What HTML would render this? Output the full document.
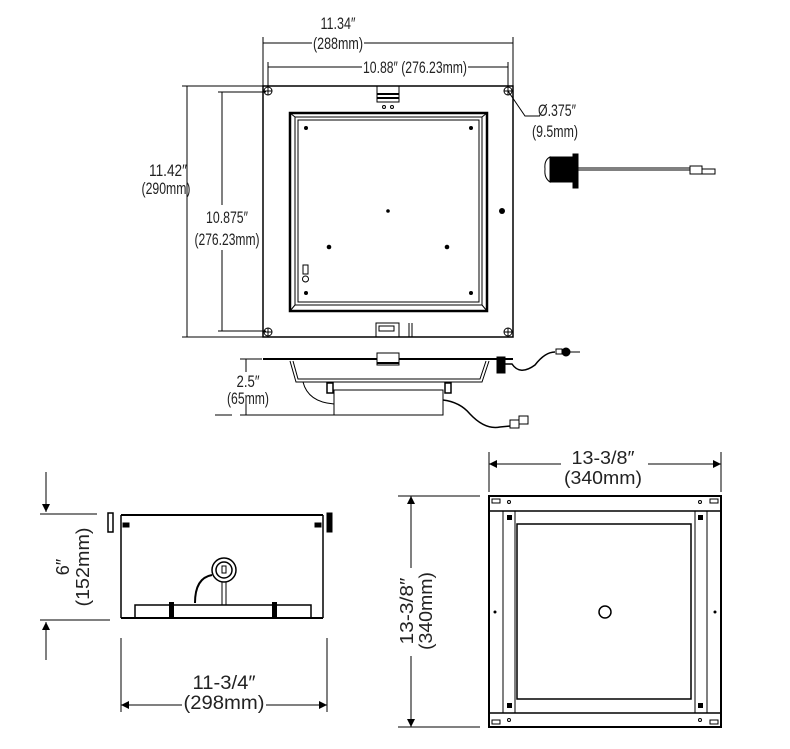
<!DOCTYPE html>
<html><head><meta charset="utf-8"><style>
html,body{margin:0;padding:0;background:#fff;}
svg{display:block;}
text{font-family:"Liberation Sans",sans-serif;fill:#222;}
</style></head><body>
<svg width="790" height="749" viewBox="0 0 790 749" xmlns="http://www.w3.org/2000/svg">
<defs>
<marker id="a" viewBox="0 0 10 10" refX="10" refY="5" markerWidth="14" markerHeight="8" orient="auto-start-reverse" markerUnits="userSpaceOnUse"><path d="M0,0L10,5L0,10z" fill="#000"/></marker>
</defs>
<g stroke="#000" fill="none" stroke-width="1">
<line x1="263" y1="37" x2="263" y2="86"/><line x1="513" y1="37" x2="513" y2="86"/>
<line x1="263" y1="43" x2="312" y2="43"/><line x1="364" y1="43" x2="513" y2="43"/>
<line x1="268" y1="62" x2="268" y2="88"/><line x1="508" y1="62" x2="508" y2="88"/>
<line x1="268" y1="67" x2="362" y2="67"/><line x1="468" y1="67" x2="508" y2="67"/>
<line x1="187" y1="86" x2="187" y2="337"/><line x1="182" y1="86" x2="263" y2="86"/><line x1="182" y1="337" x2="263" y2="337"/>
<line x1="222" y1="92" x2="222" y2="205"/><line x1="222" y1="250" x2="222" y2="331"/>
<line x1="218" y1="92" x2="266" y2="92"/><line x1="218" y1="331" x2="266" y2="331"/>
<rect x="263" y="86" width="250" height="251" stroke-width="1.5"/>
<rect x="290" y="113" width="197" height="198" stroke-width="2.5"/>
<rect x="295" y="117" width="187" height="188"/>
<rect x="298" y="120" width="181" height="182"/>
<line x1="290" y1="113" x2="295" y2="117"/><line x1="487" y1="113" x2="482" y2="117"/>
<line x1="290" y1="311" x2="295" y2="305"/><line x1="487" y1="311" x2="482" y2="305"/>
<rect x="377" y="86" width="22" height="16"/>
<line x1="377" y1="94" x2="399" y2="94" stroke-width="2"/><line x1="377" y1="98" x2="399" y2="98" stroke-width="2"/>
<circle cx="384" cy="107" r="1.5"/><circle cx="392" cy="107" r="1.5"/>
<rect x="376" y="323" width="23" height="14"/><rect x="379" y="326" width="15" height="5"/>
<line x1="409" y1="323" x2="409" y2="337"/><line x1="412" y1="323" x2="412" y2="337"/>
<g><circle cx="268" cy="91" r="4"/><circle cx="508" cy="91" r="4"/><circle cx="268" cy="332" r="4"/><circle cx="508" cy="332" r="4"/>
<path d="M264,91h8M268,87v8M504,91h8M508,87v8M264,332h8M268,328v8M504,332h8M508,328v8"/></g>
<rect x="303" y="265" width="5" height="9"/><circle cx="305.5" cy="279" r="3"/>
<path d="M508,91L525,116H540"/>
<path d="M550,157 Q544,160 545,169 Q544,178 550,182Z" fill="#fff"/>
<rect x="550" y="157" width="22" height="25" fill="#000"/>
<rect x="573" y="154" width="5" height="34" fill="#000"/>
<line x1="578" y1="168" x2="690" y2="168"/><line x1="578" y1="170" x2="690" y2="170"/>
<rect x="690" y="166" width="12" height="8"/><rect x="702" y="169" width="13" height="5"/>
<line x1="263" y1="359" x2="513" y2="359" stroke-width="2"/>
<path d="M290,361L296,382H482L489,361"/><path d="M293,361L298,379H480L486,361"/>
<rect x="377" y="353" width="22" height="12" fill="#fff"/><line x1="377" y1="363" x2="399" y2="363" stroke-width="2"/>
<rect x="334" y="390" width="109" height="25"/>
<rect x="327" y="383" width="6" height="10" stroke-width="1.5"/><rect x="445" y="383" width="6" height="10" stroke-width="1.5"/>
<path d="M303,382 Q308,402 334,404"/>
<path d="M443,400 Q460,402 470,414 Q485,430 500,427 L510,426" stroke-width="1.5"/>
<rect x="510" y="420" width="9" height="8"/><rect x="519" y="416" width="9" height="8"/>
<rect x="497" y="357" width="8" height="16" fill="#000"/>
<path d="M505,364 H512 Q520,376 535,365 Q545,352 555,352" stroke-width="1.5"/>
<rect x="556" y="349" width="6" height="5"/><circle cx="566" cy="352" r="4" fill="#000"/><line x1="570" y1="352" x2="580" y2="352"/>
<line x1="246" y1="359" x2="246" y2="372"/><line x1="246" y1="404" x2="246" y2="415"/>
<line x1="240" y1="359" x2="262" y2="359"/><line x1="240" y1="415" x2="334" y2="415"/>
<line x1="215" y1="415" x2="232" y2="415"/>
</g>
<g fill="#000">
<circle cx="306" cy="128" r="2"/><circle cx="471" cy="128" r="2"/><circle cx="306" cy="293" r="2"/><circle cx="471" cy="293" r="2"/>
<circle cx="388" cy="211" r="1.8"/><circle cx="329" cy="247" r="2.3"/><circle cx="447" cy="247" r="2.3"/><circle cx="502" cy="211" r="3"/>
</g>
<g font-size="17" text-anchor="middle" lengthAdjust="spacingAndGlyphs">
<text x="338" y="29" textLength="35" lengthAdjust="spacingAndGlyphs">11.34″</text>
<text x="338" y="49" textLength="50" lengthAdjust="spacingAndGlyphs">(288mm)</text>
<text x="415" y="73" textLength="104" lengthAdjust="spacingAndGlyphs">10.88″ (276.23mm)</text>
<text x="168" y="176" textLength="38" lengthAdjust="spacingAndGlyphs">11.42″</text>
<text x="166" y="194" textLength="49" lengthAdjust="spacingAndGlyphs">(290mm)</text>
<text x="227" y="223" textLength="42" lengthAdjust="spacingAndGlyphs">10.875″</text>
<text x="227" y="245" textLength="65" lengthAdjust="spacingAndGlyphs">(276.23mm)</text>
<text x="557" y="116" textLength="38" lengthAdjust="spacingAndGlyphs">Ø.375″</text>
<text x="555" y="137" textLength="46" lengthAdjust="spacingAndGlyphs">(9.5mm)</text>
<text x="248" y="387" textLength="23" lengthAdjust="spacingAndGlyphs">2.5″</text>
<text x="248" y="404" textLength="42" lengthAdjust="spacingAndGlyphs">(65mm)</text>
<text x="224" y="689" font-size="19" textLength="63" lengthAdjust="spacingAndGlyphs">11-3/4″</text>
<text x="224" y="709" font-size="19" textLength="81" lengthAdjust="spacingAndGlyphs">(298mm)</text>
<text x="603" y="464" font-size="18" textLength="63" lengthAdjust="spacingAndGlyphs">13-3/8″</text>
<text x="603" y="484" font-size="18" textLength="78" lengthAdjust="spacingAndGlyphs">(340mm)</text>
<text transform="translate(69,567) rotate(-90)" font-size="18">6″</text>
<text transform="translate(89,567) rotate(-90)" font-size="18" textLength="79" lengthAdjust="spacingAndGlyphs">(152mm)</text>
<text transform="translate(413,611) rotate(-90)" font-size="18" textLength="67" lengthAdjust="spacingAndGlyphs">13-3/8″</text>
<text transform="translate(432,611) rotate(-90)" font-size="18" textLength="78" lengthAdjust="spacingAndGlyphs">(340mm)</text>
</g>
<g stroke="#000" fill="none">
<line x1="121" y1="515" x2="323" y2="515" stroke-width="2"/>
<line x1="121" y1="515" x2="121" y2="618" stroke-width="1.5"/><line x1="323" y1="515" x2="323" y2="618" stroke-width="1.5"/>
<line x1="121" y1="618" x2="323" y2="618" stroke-width="2"/>
<rect x="108" y="513" width="5" height="19" stroke-width="1.5"/><rect x="327" y="513" width="5" height="19" fill="#000"/>
<rect x="123" y="523" width="6" height="4" fill="#000"/><rect x="315" y="523" width="6" height="4" fill="#000"/>
<rect x="135" y="605" width="176" height="13" stroke-width="1.5"/>
<rect x="169" y="602" width="5" height="17" fill="#000" stroke="none"/><rect x="272" y="602" width="5" height="17" fill="#000" stroke="none"/>
<circle cx="224" cy="570" r="12" stroke-width="1.5"/><circle cx="224" cy="570" r="8" stroke-width="1.5"/>
<rect x="222" y="566" width="4" height="7"/>
<line x1="222" y1="582" x2="222" y2="605"/><line x1="226" y1="582" x2="226" y2="605"/>
<path d="M212,575 Q195,578 195,603" stroke-width="2"/>
<line x1="40" y1="514" x2="97" y2="514"/><line x1="40" y1="620" x2="110" y2="620"/>
<line x1="46" y1="472" x2="46" y2="512" marker-end="url(#a)"/>
<line x1="46" y1="660" x2="46" y2="622" marker-end="url(#a)"/>
<line x1="121" y1="638" x2="121" y2="712"/><line x1="327" y1="638" x2="327" y2="712"/>
<line x1="121" y1="705" x2="182" y2="705" marker-start="url(#a)"/><line x1="266" y1="705" x2="327" y2="705" marker-end="url(#a)"/>
<rect x="489" y="496" width="232" height="231" stroke-width="2"/>
<line x1="489" y1="511" x2="721" y2="511" stroke-width="1.5"/><line x1="489" y1="713" x2="721" y2="713" stroke-width="1.5"/>
<line x1="503" y1="511" x2="503" y2="713"/><line x1="515" y1="511" x2="515" y2="713"/>
<line x1="695" y1="511" x2="695" y2="713"/><line x1="707" y1="511" x2="707" y2="713"/>
<rect x="517" y="524" width="174" height="175" stroke-width="1.5"/>
<circle cx="605" cy="612" r="6" stroke-width="1.5"/>
<rect x="492" y="499" width="8" height="4"/><rect x="710" y="499" width="8" height="4"/>
<rect x="492" y="720" width="8" height="4"/><rect x="710" y="720" width="8" height="4"/>
<circle cx="509" cy="502" r="1.5"/><circle cx="700" cy="502" r="1.5"/><circle cx="509" cy="720" r="1.5"/><circle cx="700" cy="720" r="1.5"/>
<line x1="489" y1="452" x2="489" y2="492"/><line x1="721" y1="452" x2="721" y2="492"/>
<line x1="489" y1="464" x2="561" y2="464" marker-start="url(#a)"/><line x1="648" y1="464" x2="721" y2="464" marker-end="url(#a)"/>
<line x1="398" y1="496" x2="480" y2="496"/><line x1="398" y1="727" x2="480" y2="727"/>
<line x1="411" y1="496" x2="411" y2="568" marker-start="url(#a)"/><line x1="411" y1="656" x2="411" y2="727" marker-end="url(#a)"/>
</g>
<g fill="#000">
<rect x="507" y="515" width="5" height="5"/><rect x="698" y="515" width="5" height="5"/>
<rect x="507" y="703" width="5" height="5"/><rect x="698" y="703" width="5" height="5"/>
<circle cx="495" cy="612" r="1.5"/><circle cx="715" cy="612" r="1.5"/>
</g>
</svg>
</body></html>
